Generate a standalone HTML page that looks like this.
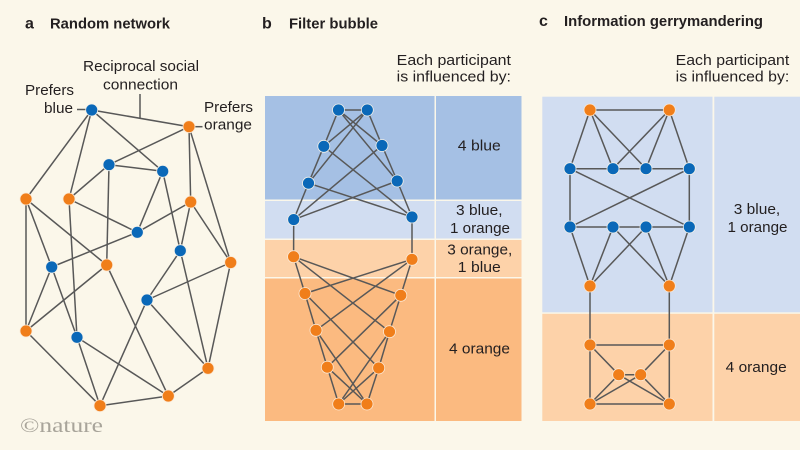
<!DOCTYPE html>
<html><head><meta charset="utf-8"><style>
html,body{margin:0;padding:0;background:#fbf7ea;}
svg{display:block;}
text{font-family:"Liberation Sans",sans-serif;fill:#231f20;}
.t{font-weight:bold;font-size:15px;}
.l{font-size:15px;}
.r{font-size:14.5px;text-anchor:middle;}
.e line{stroke:#585858;stroke-width:1.5;}
.bn{fill:#0a68b8;stroke:#f4f1e8;stroke-width:0.8;}
.on{fill:#f07e1a;stroke:#fbe8d4;stroke-width:0.8;}
</style></head><body>
<svg width="800" height="450" viewBox="0 0 800 450" xmlns="http://www.w3.org/2000/svg">
<rect width="800" height="450" fill="#fbf7ea"/>

<!-- Titles -->
<text x="25" y="28.3" class="t" style="font-size:16px">a</text>
<text x="50" y="28.3" class="t" textLength="120" lengthAdjust="spacingAndGlyphs">Random network</text>
<text x="262" y="28.3" class="t" style="font-size:16px">b</text>
<text x="289" y="28.3" class="t" textLength="89" lengthAdjust="spacingAndGlyphs">Filter bubble</text>
<text x="539" y="26" class="t" style="font-size:16px">c</text>
<text x="564" y="26" class="t" textLength="199" lengthAdjust="spacingAndGlyphs">Information gerrymandering</text>

<!-- Panel a labels -->
<text x="83" y="71" class="l" textLength="116" lengthAdjust="spacingAndGlyphs">Reciprocal social</text>
<text x="103" y="89.7" class="l" textLength="75" lengthAdjust="spacingAndGlyphs">connection</text>
<text x="25" y="95" class="l" textLength="49" lengthAdjust="spacingAndGlyphs">Prefers</text>
<text x="44" y="113.2" class="l" textLength="29" lengthAdjust="spacingAndGlyphs">blue</text>
<text x="204" y="112.2" class="l" textLength="49" lengthAdjust="spacingAndGlyphs">Prefers</text>
<text x="204" y="129.7" class="l" textLength="48" lengthAdjust="spacingAndGlyphs">orange</text>
<g stroke="#585858" stroke-width="1.5">
<line x1="77" y1="109.5" x2="86" y2="109.5"/>
<line x1="195" y1="126.7" x2="202.5" y2="126.7"/>
<line x1="140" y1="94" x2="140" y2="118.3"/>
</g>

<!-- Panel b background -->
<rect x="265" y="96" width="169.5" height="103.5" fill="#a5c0e4"/>
<rect x="436" y="96" width="85.5" height="103.5" fill="#a5c0e4"/>
<rect x="265" y="201" width="169.5" height="37.5" fill="#d1ddf1"/>
<rect x="436" y="201" width="85.5" height="37.5" fill="#d1ddf1"/>
<rect x="265" y="240" width="169.5" height="37" fill="#fdd2a9"/>
<rect x="436" y="240" width="85.5" height="37" fill="#fdd2a9"/>
<rect x="265" y="278.5" width="169.5" height="142.5" fill="#fbba80"/>
<rect x="436" y="278.5" width="85.5" height="142.5" fill="#fbba80"/>

<text x="396.7" y="65" class="l" textLength="114.3" lengthAdjust="spacingAndGlyphs">Each participant</text>
<text x="396.7" y="81.7" class="l" textLength="114.3" lengthAdjust="spacingAndGlyphs">is influenced by:</text>
<text x="479.3" y="150.7" class="r" textLength="43" lengthAdjust="spacingAndGlyphs">4 blue</text>
<text x="479.3" y="215" class="r" textLength="46.5" lengthAdjust="spacingAndGlyphs">3 blue,</text>
<text x="480" y="233" class="r" textLength="60" lengthAdjust="spacingAndGlyphs">1 orange</text>
<text x="479.8" y="254.3" class="r" textLength="65" lengthAdjust="spacingAndGlyphs">3 orange,</text>
<text x="479.3" y="272" class="r" textLength="43" lengthAdjust="spacingAndGlyphs">1 blue</text>
<text x="479.5" y="353.3" class="r" textLength="61" lengthAdjust="spacingAndGlyphs">4 orange</text>

<!-- Panel c background -->
<rect x="542.3" y="96.7" width="170.2" height="215.6" fill="#d1ddf1"/>
<rect x="714.3" y="96.7" width="85.7" height="215.6" fill="#d1ddf1"/>
<rect x="542.3" y="313.8" width="170.2" height="107.2" fill="#fdd2a9"/>
<rect x="714.3" y="313.8" width="85.7" height="107.2" fill="#fdd2a9"/>

<text x="675.7" y="65" class="l" textLength="113.6" lengthAdjust="spacingAndGlyphs">Each participant</text>
<text x="675.7" y="81.7" class="l" textLength="113.6" lengthAdjust="spacingAndGlyphs">is influenced by:</text>
<text x="757" y="214" class="r" textLength="46.5" lengthAdjust="spacingAndGlyphs">3 blue,</text>
<text x="757.5" y="232" class="r" textLength="60" lengthAdjust="spacingAndGlyphs">1 orange</text>
<text x="756.2" y="372" class="r" textLength="61" lengthAdjust="spacingAndGlyphs">4 orange</text>

<!-- Panel a edges -->
<g class="e">
<line x1="91.7" y1="110" x2="189" y2="126.7"/>
<line x1="91.7" y1="110" x2="26" y2="199"/>
<line x1="91.7" y1="110" x2="69" y2="199"/>
<line x1="91.7" y1="110" x2="162.7" y2="171.3"/>
<line x1="189" y1="126.7" x2="109" y2="164.7"/>
<line x1="189" y1="126.7" x2="190.7" y2="202"/>
<line x1="189" y1="126.7" x2="230.7" y2="262.5"/>
<line x1="109" y1="164.7" x2="162.7" y2="171.3"/>
<line x1="109" y1="164.7" x2="69" y2="199"/>
<line x1="109" y1="164.7" x2="106.7" y2="265"/>
<line x1="162.7" y1="171.3" x2="137.3" y2="232.3"/>
<line x1="162.7" y1="171.3" x2="180.3" y2="250.7"/>
<line x1="26" y1="199" x2="51.7" y2="267"/>
<line x1="26" y1="199" x2="106.7" y2="265"/>
<line x1="26" y1="199" x2="26" y2="331"/>
<line x1="69" y1="199" x2="137.3" y2="232.3"/>
<line x1="69" y1="199" x2="77" y2="337.3"/>
<line x1="190.7" y1="202" x2="137.3" y2="232.3"/>
<line x1="190.7" y1="202" x2="180.3" y2="250.7"/>
<line x1="190.7" y1="202" x2="230.7" y2="262.5"/>
<line x1="137.3" y1="232.3" x2="51.7" y2="267"/>
<line x1="180.3" y1="250.7" x2="147" y2="300"/>
<line x1="180.3" y1="250.7" x2="208" y2="368.3"/>
<line x1="230.7" y1="262.5" x2="147" y2="300"/>
<line x1="230.7" y1="262.5" x2="208" y2="368.3"/>
<line x1="51.7" y1="267" x2="26" y2="331"/>
<line x1="51.7" y1="267" x2="77" y2="337.3"/>
<line x1="106.7" y1="265" x2="26" y2="331"/>
<line x1="106.7" y1="265" x2="168.3" y2="396"/>
<line x1="147" y1="300" x2="100" y2="405.7"/>
<line x1="147" y1="300" x2="208" y2="368.3"/>
<line x1="26" y1="331" x2="100" y2="405.7"/>
<line x1="77" y1="337.3" x2="100" y2="405.7"/>
<line x1="77" y1="337.3" x2="168.3" y2="396"/>
<line x1="168.3" y1="396" x2="208" y2="368.3"/>
<line x1="100" y1="405.7" x2="168.3" y2="396"/>
</g>
<g>
<circle class="bn" cx="91.7" cy="110" r="6"/>
<circle class="on" cx="189" cy="126.7" r="6"/>
<circle class="bn" cx="109" cy="164.7" r="6"/>
<circle class="bn" cx="162.7" cy="171.3" r="6"/>
<circle class="on" cx="26" cy="199" r="6"/>
<circle class="on" cx="69" cy="199" r="6"/>
<circle class="on" cx="190.7" cy="202" r="6"/>
<circle class="bn" cx="137.3" cy="232.3" r="6"/>
<circle class="bn" cx="180.3" cy="250.7" r="6"/>
<circle class="bn" cx="51.7" cy="267" r="6"/>
<circle class="on" cx="106.7" cy="265" r="6"/>
<circle class="on" cx="230.7" cy="262.5" r="6"/>
<circle class="bn" cx="147" cy="300" r="6"/>
<circle class="on" cx="26" cy="331" r="6"/>
<circle class="bn" cx="77" cy="337.3" r="6"/>
<circle class="on" cx="208" cy="368.3" r="6"/>
<circle class="on" cx="168.3" cy="396" r="6"/>
<circle class="on" cx="100" cy="405.7" r="6"/>
</g>

<!-- Panel b edges -->
<g class="e">
<line x1="338.5" y1="110" x2="367.3" y2="110"/>
<line x1="338.5" y1="110" x2="323.8" y2="146.3"/>
<line x1="367.3" y1="110" x2="382" y2="145.5"/>
<line x1="338.5" y1="110" x2="382" y2="145.5"/>
<line x1="367.3" y1="110" x2="323.8" y2="146.3"/>
<line x1="338.5" y1="110" x2="397.2" y2="181"/>
<line x1="367.3" y1="110" x2="308.5" y2="183.2"/>
<line x1="323.8" y1="146.3" x2="308.5" y2="183.2"/>
<line x1="382" y1="145.5" x2="397.2" y2="181"/>
<line x1="323.8" y1="146.3" x2="412" y2="217"/>
<line x1="382" y1="145.5" x2="293.7" y2="219.6"/>
<line x1="308.5" y1="183.2" x2="293.7" y2="219.6"/>
<line x1="397.2" y1="181" x2="412" y2="217"/>
<line x1="308.5" y1="183.2" x2="412" y2="217"/>
<line x1="397.2" y1="181" x2="293.7" y2="219.6"/>
<line x1="293.7" y1="219.6" x2="293.6" y2="256.7"/>
<line x1="412" y1="217" x2="412" y2="259.3"/>
<line x1="293.6" y1="256.7" x2="305" y2="293.5"/>
<line x1="412" y1="259.3" x2="400.8" y2="295.3"/>
<line x1="293.6" y1="256.7" x2="400.8" y2="295.3"/>
<line x1="412" y1="259.3" x2="305" y2="293.5"/>
<line x1="293.6" y1="256.7" x2="389.5" y2="331.7"/>
<line x1="412" y1="259.3" x2="316" y2="330.3"/>
<line x1="305" y1="293.5" x2="316" y2="330.3"/>
<line x1="400.8" y1="295.3" x2="389.5" y2="331.7"/>
<line x1="305" y1="293.5" x2="378.7" y2="368"/>
<line x1="400.8" y1="295.3" x2="327.3" y2="367.2"/>
<line x1="316" y1="330.3" x2="327.3" y2="367.2"/>
<line x1="389.5" y1="331.7" x2="378.7" y2="368"/>
<line x1="316" y1="330.3" x2="367" y2="404"/>
<line x1="389.5" y1="331.7" x2="338.7" y2="404"/>
<line x1="327.3" y1="367.2" x2="338.7" y2="404"/>
<line x1="378.7" y1="368" x2="367" y2="404"/>
<line x1="327.3" y1="367.2" x2="367" y2="404"/>
<line x1="378.7" y1="368" x2="338.7" y2="404"/>
<line x1="338.7" y1="404" x2="367" y2="404"/>
</g>
<g>
<circle class="bn" cx="338.5" cy="110" r="6"/>
<circle class="bn" cx="367.3" cy="110" r="6"/>
<circle class="bn" cx="323.8" cy="146.3" r="6"/>
<circle class="bn" cx="382" cy="145.5" r="6"/>
<circle class="bn" cx="308.5" cy="183.2" r="6"/>
<circle class="bn" cx="397.2" cy="181" r="6"/>
<circle class="bn" cx="293.7" cy="219.6" r="6"/>
<circle class="bn" cx="412" cy="217" r="6"/>
<circle class="on" cx="293.6" cy="256.7" r="6"/>
<circle class="on" cx="412" cy="259.3" r="6"/>
<circle class="on" cx="305" cy="293.5" r="6"/>
<circle class="on" cx="400.8" cy="295.3" r="6"/>
<circle class="on" cx="316" cy="330.3" r="6"/>
<circle class="on" cx="389.5" cy="331.7" r="6"/>
<circle class="on" cx="327.3" cy="367.2" r="6"/>
<circle class="on" cx="378.7" cy="368" r="6"/>
<circle class="on" cx="338.7" cy="404" r="6"/>
<circle class="on" cx="367" cy="404" r="6"/>
</g>

<!-- Panel c edges -->
<g class="e">
<line x1="590" y1="110" x2="669.3" y2="110"/>
<line x1="590" y1="110" x2="570" y2="168.7"/>
<line x1="590" y1="110" x2="613" y2="168.7"/>
<line x1="590" y1="110" x2="646" y2="168.7"/>
<line x1="669.3" y1="110" x2="613" y2="168.7"/>
<line x1="669.3" y1="110" x2="646" y2="168.7"/>
<line x1="669.3" y1="110" x2="689.3" y2="168.7"/>
<line x1="570" y1="168.7" x2="689.3" y2="168.7"/>
<line x1="570" y1="168.7" x2="570" y2="227"/>
<line x1="689.3" y1="168.7" x2="689.3" y2="227"/>
<line x1="570" y1="168.7" x2="689.3" y2="227"/>
<line x1="689.3" y1="168.7" x2="570" y2="227"/>
<line x1="570" y1="227" x2="689.3" y2="227"/>
<line x1="570" y1="227" x2="590" y2="286"/>
<line x1="613" y1="227" x2="590" y2="286"/>
<line x1="646" y1="227" x2="590" y2="286"/>
<line x1="613" y1="227" x2="669.3" y2="286"/>
<line x1="646" y1="227" x2="669.3" y2="286"/>
<line x1="689.3" y1="227" x2="669.3" y2="286"/>
<line x1="590" y1="286" x2="590" y2="345"/>
<line x1="669.3" y1="286" x2="669.3" y2="345"/>
<line x1="590" y1="345" x2="669.3" y2="345"/>
<line x1="590" y1="345" x2="590" y2="404"/>
<line x1="669.3" y1="345" x2="669.3" y2="404"/>
<line x1="590" y1="345" x2="618.7" y2="374.7"/>
<line x1="669.3" y1="345" x2="640.7" y2="374.7"/>
<line x1="618.7" y1="374.7" x2="640.7" y2="374.7"/>
<line x1="590" y1="404" x2="618.7" y2="374.7"/>
<line x1="590" y1="404" x2="640.7" y2="374.7"/>
<line x1="669.3" y1="404" x2="618.7" y2="374.7"/>
<line x1="669.3" y1="404" x2="640.7" y2="374.7"/>
<line x1="590" y1="404" x2="669.3" y2="404"/>
</g>
<g>
<circle class="on" cx="590" cy="110" r="6"/>
<circle class="on" cx="669.3" cy="110" r="6"/>
<circle class="bn" cx="570" cy="168.7" r="6"/>
<circle class="bn" cx="613" cy="168.7" r="6"/>
<circle class="bn" cx="646" cy="168.7" r="6"/>
<circle class="bn" cx="689.3" cy="168.7" r="6"/>
<circle class="bn" cx="570" cy="227" r="6"/>
<circle class="bn" cx="613" cy="227" r="6"/>
<circle class="bn" cx="646" cy="227" r="6"/>
<circle class="bn" cx="689.3" cy="227" r="6"/>
<circle class="on" cx="590" cy="286" r="6"/>
<circle class="on" cx="669.3" cy="286" r="6"/>
<circle class="on" cx="590" cy="345" r="6"/>
<circle class="on" cx="669.3" cy="345" r="6"/>
<circle class="on" cx="618.7" cy="374.7" r="6"/>
<circle class="on" cx="640.7" cy="374.7" r="6"/>
<circle class="on" cx="590" cy="404" r="6"/>
<circle class="on" cx="669.3" cy="404" r="6"/>
</g>

<!-- nature logo -->
<text x="20" y="432" style="font-family:'Liberation Serif',serif;font-size:20px;fill:#a8a49a" textLength="83" lengthAdjust="spacingAndGlyphs">©nature</text>
</svg>
</body></html>
